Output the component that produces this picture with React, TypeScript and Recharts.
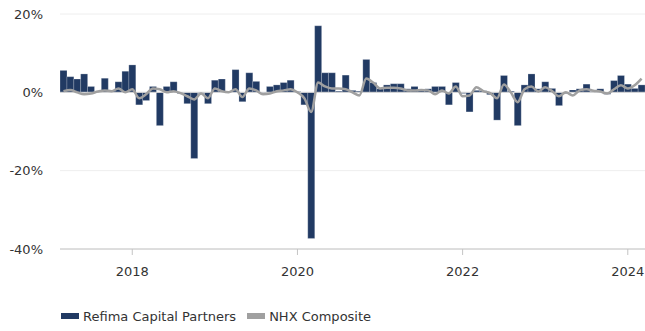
import {
  ComposedChart,
  Bar,
  Line,
  XAxis,
  YAxis,
  CartesianGrid,
  ReferenceLine,
  Legend,
} from "recharts";

const FONT = "'DejaVu Sans', Verdana, sans-serif";
const COLOR_FUND = "#213a63";
const COLOR_INDEX = "#a0a0a0";

// Monthly returns in %, Mar 2017 – Mar 2024
const refimaReturns = [
  5.6, 4.0, 3.4, 4.7, 1.5, 0.2, 3.6, 0.6, 2.7, 5.4,
  7.0, -3.2, -2.1, 1.5, -8.5, 1.5, 2.7, -0.3, -2.9, -16.9, -0.3, -2.9,
  3.1, 3.4, 0.2, 5.8, -2.4, 5.0, 2.8, -0.3, 1.5, 1.9, 2.5, 3.1,
  0.2, -3.2, -37.3, 17.0, 5.0, 5.0, 0.3, 4.4, 0.5, 0.3, 8.4, 2.5,
  0.9, 1.9, 2.2, 2.2, 0.9, 1.5, 0.5, 0.9, 1.5, 1.5, -3.2, 2.5,
  -0.3, -5.0, 0.5, 0.4, -0.6, -7.1, 4.3, 0.3, -8.5, 1.9, 4.7, 0.9,
  2.7, 1.0, -3.4, -0.3, 0.6, 0.9, 2.1, 0.2, 0.9, -0.5, 3.0, 4.3,
  2.1, 1.0, 1.9,
];

const nhxReturns = [
  0.3, 0.6, 0.0, -0.5, -0.3, 0.2, 0.5, 0.3, 1.0, 0.0,
  0.8, -1.5, -0.5, 1.0, 0.8, 0.0, 0.3, -0.2, -1.0, -1.8, -0.3, -1.5,
  1.0, 0.3, 0.0, 0.8, -1.2, 1.0, 0.5, -0.5, -0.3, 0.3, 0.5, 0.8,
  0.0, -1.5, -5.0, 2.5, 1.5, 1.0, 1.0, 0.8, 0.0, -0.8, 3.5, 2.5,
  1.0, 1.2, 1.2, 1.0, 0.5, 0.5, 0.6, 0.5, -0.5, 0.5, -0.3, 1.5,
  -1.0, -0.8, 1.3, 0.3, -0.2, -1.5, 2.0, 0.0, -2.5, 0.8, 1.5, 0.2,
  1.3, 0.3, -1.0, 0.0, -0.8, 0.5, 0.8, 0.4, 0.2, -0.3, 0.8, 1.8,
  1.0, 1.8, 3.5,
];

const yearTicks = ["2018-01", "2020-01", "2022-01", "2024-01"];
const pctTicks = [-40, -20, 0, 20];

const months = refimaReturns.map((_, i) => {
  const m = 2 + i;
  return `${2017 + Math.floor(m / 12)}-${String((m % 12) + 1).padStart(2, "0")}`;
});

const data = months.map((month, i) => ({
  month,
  refima: refimaReturns[i],
  nhx: nhxReturns[i],
}));

const legendItems = [
  { label: "Refima Capital Partners", color: COLOR_FUND },
  { label: "NHX Composite", color: COLOR_INDEX },
];

function ChartLegend() {
  return (
    <div style={{ display: "flex", alignItems: "center", height: 22, paddingLeft: 61 }}>
      {legendItems.map((item) => (
        <div
          key={item.label}
          style={{ display: "flex", alignItems: "center", marginRight: 11 }}
        >
          <span
            style={{ width: 18, height: 6, background: item.color, marginRight: 4 }}
          />
          <span style={{ fontFamily: FONT, fontSize: 13, color: "#333" }}>
            {item.label}
          </span>
        </div>
      ))}
    </div>
  );
}

export default function App() {
  return (
    <div style={{ position: "absolute", left: 0, top: 0, background: "#fff" }}>
      <ComposedChart
        width={645}
        height={331}
        data={data}
        barCategoryGap={0}
        margin={{ top: 14, right: 0, bottom: 4, left: 0 }}
      >
        <CartesianGrid vertical={false} stroke="#eeeeee" />
        <XAxis
          dataKey="month"
          ticks={yearTicks}
          tickFormatter={(v: string) => v.slice(0, 4)}
          height={56}
          tickSize={6}
          tickMargin={12}
          axisLine={{ stroke: "#c4c4c4" }}
          tickLine={{ stroke: "#c4c4c4" }}
          tick={{ fontFamily: FONT, fontSize: 13, fill: "#333" }}
        />
        <YAxis
          domain={[-40, 20]}
          ticks={pctTicks}
          tickFormatter={(v: number) => `${v}%`}
          width={60}
          axisLine={false}
          tickLine={false}
          tickMargin={11}
          tick={{ fontFamily: FONT, fontSize: 13, fill: "#333" }}
        />
        <Legend verticalAlign="bottom" content={() => <ChartLegend />} />
        <Bar
          dataKey="refima"
          fill={COLOR_FUND}
          stroke="#ffffff"
          strokeWidth={0.4}
          strokeOpacity={0.6}
          isAnimationActive={false}
        />
        <ReferenceLine y={0} stroke="#d6d6d6" strokeWidth={1} />
        <Line
          type="monotone"
          dataKey="nhx"
          stroke={COLOR_INDEX}
          strokeWidth={2.5}
          dot={false}
          activeDot={false}
          isAnimationActive={false}
        />
      </ComposedChart>
    </div>
  );
}
